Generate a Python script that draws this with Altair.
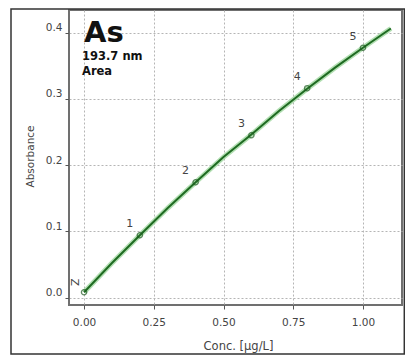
import altair as alt
import pandas as pd

# Calibration standards
std_conc = [0.0, 0.2, 0.4, 0.6, 0.8, 1.0]
std_abs = [0.008, 0.094, 0.174, 0.245, 0.316, 0.377]
std_labels = ["Z", "1", "2", "3", "4", "5"]

# Fitted calibration curve
fit_conc = [0.0, 0.1, 0.2, 0.3, 0.4, 0.5, 0.6, 0.7, 0.8, 0.9, 1.0, 1.1]
fit_abs = [0.008, 0.052, 0.094, 0.135, 0.174, 0.212, 0.246, 0.282, 0.315, 0.347, 0.377, 0.406]

x_ticks = [0.0, 0.25, 0.5, 0.75, 1.0]
y_ticks = [0.0, 0.1, 0.2, 0.3, 0.4]

std = pd.DataFrame({"conc": std_conc, "abs": std_abs, "label": std_labels})
fit = pd.DataFrame({"conc": fit_conc, "abs": fit_abs})

FONT = "DejaVu Sans"
W, H = 333, 295

xs = alt.Scale(domain=[-0.054, 1.14], nice=False, zero=False)
ys = alt.Scale(domain=[-0.0113, 0.434], nice=False, zero=False)

xax = alt.Axis(values=x_ticks, format=".2f", title="Conc. [µg/L]",
               tickSize=4, labelPadding=8, titleFontSize=11.5,
               titleX=169, titleY=41, titleBaseline="middle", titleAlign="center")
yax = alt.Axis(values=y_ticks, format=".1f", title="Absorbance",
               tickSize=4, labelPadding=3, labelBaseline="middle", labelOffset=-5,
               titleFontSize=10.5, titleX=-39, titleY=146, titleAngle=270,
               titleAlign="center", titleBaseline="middle")

X = alt.X("conc:Q", scale=xs, axis=xax)
Y = alt.Y("abs:Q", scale=ys, axis=yax)

base_fit = alt.Chart(fit)
glow = base_fit.mark_line(color="#9fd79f", strokeWidth=5, opacity=0.8).encode(x=X, y=Y)
line = base_fit.mark_line(color="#1f6b22", strokeWidth=2).encode(x=X, y=Y)

base_std = alt.Chart(std)
pts = base_std.mark_point(shape="circle", filled=False, size=28, color="#1f5a22",
                          strokeWidth=1.3).encode(x=X, y=Y)
lbl = base_std.transform_filter(alt.datum.label != "Z").mark_text(
    dx=-10, dy=-11, fontSize=11, font=FONT, color="#444444").encode(
    x=X, y=Y, text="label:N")
lblz = base_std.transform_filter(alt.datum.label == "Z").mark_text(
    dx=-10, dy=10, fontSize=11, font=FONT, color="#444444", angle=90).encode(
    x=X, y=Y, text="label:N")

ann = pd.DataFrame({"t": ["As", "193.7 nm", "Area"]})
t_as = alt.Chart(ann).transform_filter(alt.datum.t == "As").mark_text(
    align="left", baseline="alphabetic", fontSize=29, fontWeight="bold",
    font=FONT, color="#111111").encode(x=alt.value(15), y=alt.value(32), text="t:N")
t_nm = alt.Chart(ann).transform_filter(alt.datum.t == "193.7 nm").mark_text(
    align="left", baseline="middle", fontSize=11.5, fontWeight="bold",
    font=FONT, color="#111111").encode(x=alt.value(13), y=alt.value(47), text="t:N")
t_ar = alt.Chart(ann).transform_filter(alt.datum.t == "Area").mark_text(
    align="left", baseline="middle", fontSize=11.5, fontWeight="bold",
    font=FONT, color="#111111").encode(x=alt.value(13), y=alt.value(62), text="t:N")

frame = alt.Chart(ann).transform_filter(alt.datum.t == "As").mark_rect(
    filled=False, stroke="#333333", strokeWidth=1.5).encode(
    x=alt.value(-58), x2=alt.value(335.3), y=alt.value(-1), y2=alt.value(344))

chart = alt.layer(frame, glow, line, pts, lbl, lblz, t_as, t_nm, t_ar).properties(
    width=W, height=H,
    autosize=alt.AutoSizeParams(type="none"),
    padding={"left": 61, "top": 2, "right": 3, "bottom": 53},
).configure(
    background="white",
    font=FONT,
).configure_view(
    stroke="#707070", strokeWidth=2,
).configure_axis(
    domain=False,
    grid=True, gridColor="#b5b5b5", gridDash=[2, 2], gridWidth=1,
    tickColor="#555555", labelColor="#444444", labelFont=FONT, labelFontSize=10.5,
    titleColor="#444444", titleFont=FONT, titleFontWeight="normal",
)

chart.save("out.html", embed_options={"renderer": "svg", "actions": False})
